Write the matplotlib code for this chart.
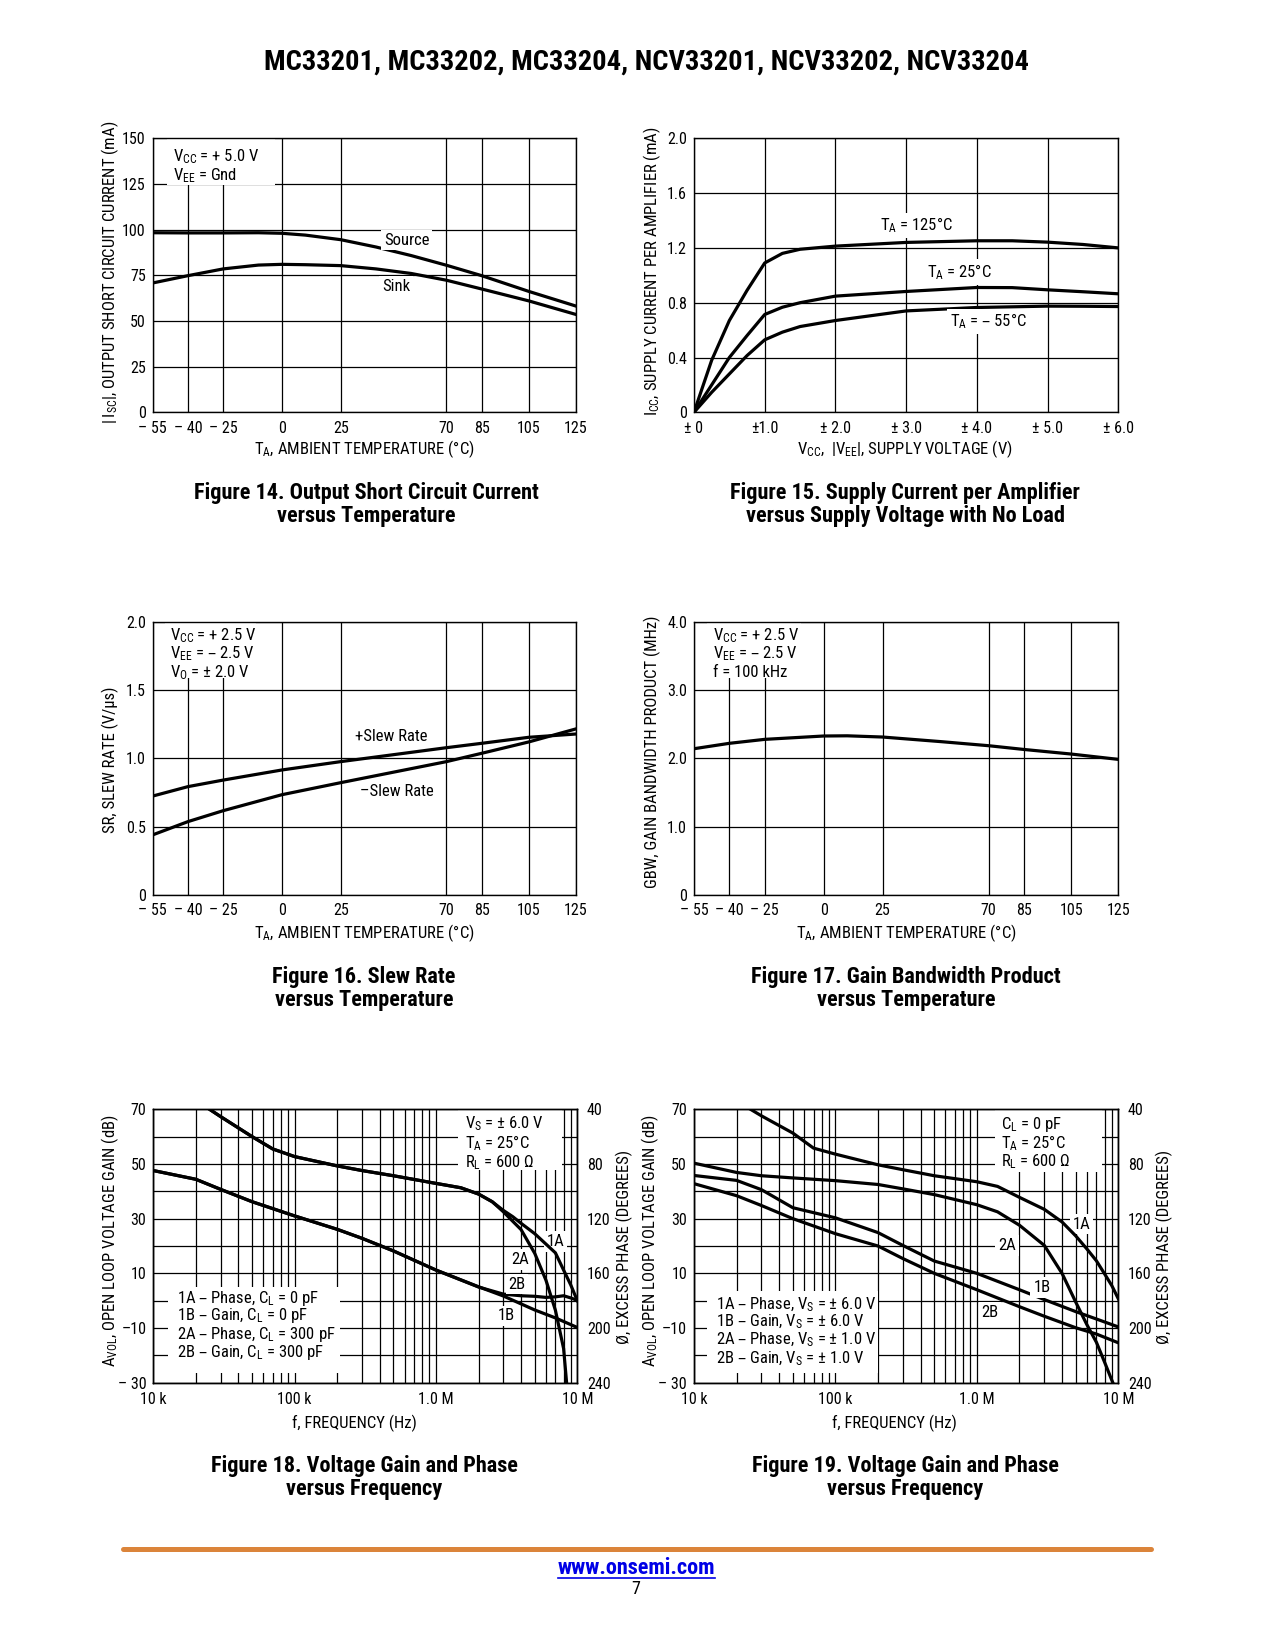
"""Pagina 7 de la hoja de datos MC33201: seis graficas de curvas tipicas."""

import matplotlib
matplotlib.use('Agg')
import matplotlib.pyplot as plt
from matplotlib.lines import Line2D
from matplotlib.patches import Rectangle
from matplotlib.ticker import FixedLocator, LogLocator, NullFormatter

plt.rcParams['font.family'] = ['Roboto Condensed', 'Liberation Sans', 'DejaVu Sans']
plt.rcParams['mathtext.default'] = 'regular'

# ---------------- datos ----------------
temp_ticks = [-55, -40, -25, 0, 25, 70, 85, 105, 125]
temp_labels = ['– 55', '– 40', '– 25', '0', '25', '70', '85', '105', '125']

# Figura 14: corriente de corto circuito (mA)
isc_temp = [-55, -40, -25, -10, 0, 10, 25, 40, 55, 70, 85, 105, 125]
isc_source = [98.3, 98.2, 98.2, 98.3, 98.0, 97.0, 94.5, 90.5, 85.8, 80.5, 74.8, 66.2, 58.2]
isc_sink = [70.8, 74.8, 78.5, 80.6, 81.0, 80.8, 80.3, 78.5, 76.0, 72.3, 67.5, 61.0, 53.6]

# Figura 15: corriente de alimentacion (mA) contra voltaje
vsup = [0, 0.25, 0.5, 0.75, 1.0, 1.25, 1.5, 2.0, 3.0, 4.0, 4.5, 5.0, 5.5, 6.0]
icc_125 = [0, 0.38, 0.67, 0.89, 1.09, 1.16, 1.19, 1.213, 1.24, 1.252, 1.252, 1.242, 1.225, 1.20]
icc_25 = [0, 0.20, 0.40, 0.56, 0.714, 0.767, 0.80, 0.848, 0.882, 0.911, 0.91, 0.894, 0.88, 0.865]
icc_m55 = [0, 0.146, 0.28, 0.414, 0.529, 0.585, 0.626, 0.67, 0.74, 0.765, 0.77, 0.775, 0.774, 0.772]
vsup_ticks = [0, 1, 2, 3, 4, 5, 6]
vsup_labels = ['± 0', '±1.0', '± 2.0', '± 3.0', '± 4.0', '± 5.0', '± 6.0']

# Figura 16: slew rate (V/us)
sr_temp = [-55, -40, -25, 0, 25, 70, 85, 105, 125]
sr_pos = [0.724, 0.793, 0.841, 0.915, 0.976, 1.078, 1.11, 1.154, 1.178]
sr_neg = [0.44, 0.537, 0.617, 0.734, 0.822, 0.976, 1.037, 1.12, 1.215]

# Figura 17: producto ganancia ancho de banda (MHz)
gbw_temp = [-55, -40, -25, 0, 10, 25, 50, 70, 85, 105, 125]
gbw = [2.141, 2.22, 2.278, 2.327, 2.33, 2.312, 2.244, 2.185, 2.13, 2.063, 1.985]

# Figura 18: ganancia (dB) y fase (grados) contra frecuencia
f18_1a = [25e3, 30e3, 50e3, 70e3, 100e3, 200e3, 300e3, 500e3, 1e6, 1.5e6, 2e6,
          2.5e6, 3e6, 3.5e6, 4e6, 5e6, 7e6, 8e6, 9e6, 10e6]
ph18_1a = [40, 45.4, 60, 69, 74.6, 81.4, 84.8, 88.6, 94.2, 97.4, 102,
           107.6, 114, 118.6, 123.4, 131, 145, 157.6, 168.6, 180]
f18_2a = [25e3, 30e3, 50e3, 70e3, 100e3, 200e3, 300e3, 500e3, 1e6, 1.5e6, 2e6,
          2.5e6, 3e6, 3.5e6, 4e6, 5e6, 6e6, 7e6, 8e6, 8.4e6]
ph18_2a = [40, 45.4, 60, 69, 74.6, 81.4, 84.8, 88.6, 94.2, 97.4, 102,
           107.6, 115, 122, 128, 145.4, 165, 187, 215, 240]
f18_1b = [10e3, 20e3, 30e3, 50e3, 100e3, 200e3, 300e3, 500e3, 1e6, 2e6, 3e6, 5e6, 7e6, 10e6]
g18_1b = [47.6, 44.4, 40.7, 36.2, 31.0, 26.1, 22.8, 18.2, 11.2, 5.1, 1.7, -3.4, -6.3, -9.8]
f18_2b = [10e3, 20e3, 30e3, 50e3, 100e3, 200e3, 300e3, 500e3, 1e6, 2e6, 3e6, 4e6,
          5e6, 6e6, 7e6, 8e6, 9e6, 10e6]
g18_2b = [47.6, 44.4, 40.7, 36.2, 31.0, 26.1, 22.8, 18.2, 11.2, 5.0, 2.4, 1.8,
          1.6, 1.2, 1.4, 1.8, 1.0, 0.1]

# Figura 19
f19_1a = [25.1e3, 30e3, 50e3, 70e3, 100e3, 200e3, 300e3, 500e3, 1e6, 1.4e6, 2e6,
          3e6, 4e6, 5e6, 6e6, 7e6, 8e6, 9e6, 10e6]
ph19_1a = [40, 44.8, 57.4, 68.4, 72.8, 80.6, 84.2, 88.6, 93, 96.4, 104.4,
           113.2, 122.4, 132.6, 142.2, 150.8, 160.4, 169, 178.6]
f19_2a = [10e3, 20e3, 30e3, 50e3, 100e3, 200e3, 300e3, 500e3, 1e6, 1.4e6, 2e6,
          3e6, 4e6, 5e6, 6e6, 7e6, 8e6, 9e6, 9.15e6]
ph19_2a = [79.4, 86.2, 88.6, 90.2, 92.2, 95, 98.2, 102.4, 109.8, 115, 124.8,
           139.6, 160, 181, 197.6, 210.4, 225, 238.2, 240]
f19_gain = [10e3, 20e3, 30e3, 50e3, 100e3, 200e3, 300e3, 500e3, 1e6, 2e6, 3e6, 5e6, 7e6, 10e6]
g19_1b = [45.8, 44.0, 40.6, 34.0, 30.3, 24.9, 20.2, 14.5, 10.0, 4.0, 0.4, -4.0, -6.7, -9.6]
g19_2b = [42.8, 38.4, 34.8, 30.0, 24.5, 20.0, 15.4, 10.0, 4.0, -2.2, -5.7, -9.9, -12.2, -15.4]

freq_ticks = [1e4, 1e5, 1e6, 1e7]
freq_labels = ['10 k', '100 k', '1.0 M', '10 M']
gain_ticks = [-30, -20, -10, 0, 10, 20, 30, 40, 50, 60, 70]
gain_labels = ['– 30', '', '–10', '', '10', '', '30', '', '50', '', '70']
phase_ticks = [40, 80, 120, 160, 200, 240]

# ---------------- figura ----------------
W, H = 1275, 1650
fig = plt.figure(figsize=(W / 100, H / 100), dpi=100)
FS = 12
TFS = 11.5
LW = 2.3
WHITE = dict(facecolor='white', edgecolor='none', pad=2)


def px_axes(left, top, right, bottom):
    return fig.add_axes([left / W, 1 - bottom / H, (right - left) / W, (bottom - top) / H])


def estilo(ax):
    ax.set_axisbelow(True)
    ax.grid(True, which='both', color='black', linewidth=0.9)
    ax.tick_params(which='both', length=0, labelsize=TFS, pad=6)
    ax.tick_params(axis='y', pad=5)
    for s in ax.spines.values():
        s.set_linewidth(1.0)


def caja(ax, x0, y0, x1, y1):
    # recuadro blanco que tapa la reticula detras de los textos
    ax.add_patch(Rectangle((x0, y0), x1 - x0, y1 - y0, transform=ax.transAxes,
                           facecolor='white', edgecolor='none', zorder=1))


def lineas(ax, x, ys, textos):
    for y, t in zip(ys, textos):
        ax.text(x, y, t, va='center', fontsize=FS, zorder=3)


def ftext(x, y, s, **kw):
    fig.text(x / W, 1 - y / H, s, ha='center', va='center', fontsize=FS, **kw)


def ylab(x, y, s):
    ftext(x, y, s, rotation=90)


def caption(x, y, l1, l2):
    for yy, s in [(y, l1), (y + 23, l2)]:
        fig.text(x / W, 1 - yy / H, s, ha='center', va='baseline', fontsize=16, weight='bold')


def temp_axis(ax):
    ax.set_xlim(-55, 125)
    ax.set_xticks(temp_ticks)
    ax.set_xticklabels(temp_labels)


def freq_axis(ax):
    ax.set_xscale('log')
    ax.set_xlim(1e4, 1e7)
    ax.xaxis.set_major_locator(FixedLocator(freq_ticks))
    ax.set_xticklabels(freq_labels)
    ax.xaxis.set_minor_locator(LogLocator(base=10, subs=range(2, 10), numticks=20))
    ax.xaxis.set_minor_formatter(NullFormatter())
    ax.tick_params(axis='x', pad=7)
    ax.set_ylim(-30, 70)
    ax.set_yticks(gain_ticks)
    ax.set_yticklabels(gain_labels)
    ax2 = ax.twinx()
    ax2.set_ylim(240, 40)
    ax2.set_yticks(phase_ticks)
    ax2.tick_params(length=0, labelsize=TFS, pad=7)
    for s in ax2.spines.values():
        s.set_linewidth(1.0)
    return ax2


fig.text(646 / W, 1 - 70 / H, 'MC33201, MC33202, MC33204, NCV33201, NCV33202, NCV33204',
         ha='center', va='baseline', fontsize=20.5, weight='bold')

# Figura 14
ax = px_axes(152.7, 138.3, 575.7, 412.3)
estilo(ax)
temp_axis(ax)
ax.set_ylim(0, 150)
ax.set_yticks(range(0, 151, 25))
ax.plot(isc_temp, isc_source, 'k-', lw=LW)
ax.plot(isc_temp, isc_sink, 'k-', lw=LW)
caja(ax, 0.033, 0.83, 0.29, 1.0)
lineas(ax, -46.5, [140, 129.5], ['V$_{CC}$ = + 5.0 V', 'V$_{EE}$ = Gnd'])
ax.text(53, 94.3, 'Source', ha='center', va='center', fontsize=FS, bbox=WHITE)
ax.text(48.5, 69, 'Sink', ha='center', va='center', fontsize=FS, bbox=WHITE)
ylab(110, 272, '$|\\,$I$_{SC}|$, OUTPUT SHORT CIRCUIT CURRENT (mA)')
ftext(364, 449, 'T$_A$, AMBIENT TEMPERATURE (°C)')
caption(366, 499, 'Figure 14. Output Short Circuit Current', 'versus Temperature')

# Figura 15
ax = px_axes(694, 138.3, 1118.3, 412.3)
estilo(ax)
ax.set_xlim(0, 6)
ax.set_xticks(vsup_ticks)
ax.set_xticklabels(vsup_labels)
ax.set_ylim(0, 2.0)
ax.set_yticks([0, 0.4, 0.8, 1.2, 1.6, 2.0])
ax.set_yticklabels(['0', '0.4', '0.8', '1.2', '1.6', '2.0'])
ax.plot(vsup, icc_125, 'k-', lw=LW)
ax.plot(vsup, icc_25, 'k-', lw=LW)
ax.plot(vsup, icc_m55, 'k-', lw=LW)
ax.text(2.63, 1.364, 'T$_A$ = 125°C', va='center', fontsize=FS, bbox=WHITE)
ax.text(3.29, 1.023, 'T$_A$ = 25°C', va='center', fontsize=FS, bbox=WHITE)
ax.text(3.62, 0.665, 'T$_A$ = – 55°C', va='center', fontsize=FS, bbox=WHITE)
ylab(652, 271, 'I$_{CC}$, SUPPLY CURRENT PER AMPLIFIER (mA)')
ftext(905, 449, 'V$_{CC}$,  $|$V$_{EE}|$, SUPPLY VOLTAGE (V)')
caption(905, 499, 'Figure 15. Supply Current per Amplifier', 'versus Supply Voltage with No Load')

# Figura 16
ax = px_axes(152.7, 621.7, 575.7, 895)
estilo(ax)
temp_axis(ax)
ax.set_ylim(0, 2.0)
ax.set_yticks([0, 0.5, 1.0, 1.5, 2.0])
ax.set_yticklabels(['0', '0.5', '1.0', '1.5', '2.0'])
ax.plot(sr_temp, sr_pos, 'k-', lw=LW)
ax.plot(sr_temp, sr_neg, 'k-', lw=LW)
caja(ax, 0.030, 0.793, 0.245, 1.0)
lineas(ax, -47.6, [1.9, 1.765, 1.63],
       ['V$_{CC}$ = + 2.5 V', 'V$_{EE}$ = – 2.5 V', 'V$_O$ = ± 2.0 V'])
ax.text(31.2, 1.159, '+Slew Rate', va='center', fontsize=FS, bbox=WHITE)
ax.text(33, 0.761, '–Slew Rate', va='center', fontsize=FS, bbox=WHITE)
ylab(110, 760, 'SR, SLEW RATE (V/µs)')
ftext(364, 933, 'T$_A$, AMBIENT TEMPERATURE (°C)')
caption(364, 983, 'Figure 16. Slew Rate', 'versus Temperature')

# Figura 17
ax = px_axes(694, 621.7, 1118.3, 895)
estilo(ax)
temp_axis(ax)
ax.set_ylim(0, 4.0)
ax.set_yticks([0, 1, 2, 3, 4])
ax.set_yticklabels(['0', '1.0', '2.0', '3.0', '4.0'])
ax.plot(gbw_temp, gbw, 'k-', lw=LW)
caja(ax, 0.030, 0.793, 0.253, 1.0)
lineas(ax, -47.1, [3.8, 3.53, 3.26],
       ['V$_{CC}$ = + 2.5 V', 'V$_{EE}$ = – 2.5 V', 'f = 100 kHz'])
ylab(652, 752, 'GBW, GAIN BANDWIDTH PRODUCT (MHz)')
ftext(906, 933, 'T$_A$, AMBIENT TEMPERATURE (°C)')
caption(906, 983, 'Figure 17. Gain Bandwidth Product', 'versus Temperature')

# Figura 18
ax = px_axes(153.3, 1109.3, 577.3, 1382.7)
estilo(ax)
ax2 = freq_axis(ax)
ax.plot(f18_1b, g18_1b, 'k-', lw=LW)
ax.plot(f18_2b, g18_2b, 'k-', lw=LW)
ax2.plot(f18_1a, ph18_1a, 'k-', lw=LW)
ax2.plot(f18_2a, ph18_2a, 'k-', lw=LW)
caja(ax, 0.719, 0.778, 0.963, 1.0)
lineas(ax, 1.6e6, [64.6, 57.6, 50.6], ['V$_S$ = ± 6.0 V', 'T$_A$ = 25°C', 'R$_L$ = 600 Ω'])
caja(ax, 0.035, 0.034, 0.441, 0.351)
lineas(ax, 14.8e3, [0.9, -5.6, -12.2, -19.1],
       ['1A – Phase, C$_L$ = 0 pF', '1B – Gain, C$_L$ = 0 pF',
        '2A – Phase, C$_L$ = 300 pF', '2B – Gain, C$_L$ = 300 pF'])
for s, fx, gy in [('1A', 7.03e6, 21.6), ('2A', 3.93e6, 15.1), ('2B', 3.75e6, 6.1), ('1B', 3.16e6, -5.6)]:
    ax.text(fx, gy, s, ha='center', va='center', fontsize=FS, bbox=WHITE)
ylab(110, 1241, 'A$_{VOL}$, OPEN LOOP VOLTAGE GAIN (dB)')
ylab(624, 1247, 'Ø, EXCESS PHASE (DEGREES)')
ftext(354, 1423, 'f, FREQUENCY (Hz)')
caption(364, 1472, 'Figure 18. Voltage Gain and Phase', 'versus Frequency')

# Figura 19
ax = px_axes(694, 1109.3, 1118.3, 1382.7)
estilo(ax)
ax2 = freq_axis(ax)
ax.plot(f19_gain, g19_1b, 'k-', lw=LW)
ax.plot(f19_gain, g19_2b, 'k-', lw=LW)
ax2.plot(f19_1a, ph19_1a, 'k-', lw=LW)
ax2.plot(f19_2a, ph19_2a, 'k-', lw=LW)
caja(ax, 0.709, 0.772, 0.961, 1.0)
lineas(ax, 1.48e6, [64.6, 57.7, 50.9], ['C$_L$ = 0 pF', 'T$_A$ = 25°C', 'R$_L$ = 600 Ω'])
caja(ax, 0.031, 0.036, 0.434, 0.334)
lineas(ax, 14.3e3, [-1.4, -7.9, -14.4, -21.4],
       ['1A – Phase, V$_S$ = ± 6.0 V', '1B – Gain, V$_S$ = ± 6.0 V',
        '2A – Phase, V$_S$ = ± 1.0 V', '2B – Gain, V$_S$ = ± 1.0 V'])
for s, fx, gy in [('1A', 5.51e6, 28), ('2A', 1.63e6, 20.1), ('1B', 2.88e6, 4.9), ('2B', 1.24e6, -4.2)]:
    ax.text(fx, gy, s, ha='center', va='center', fontsize=FS, bbox=WHITE)
ylab(650, 1241, 'A$_{VOL}$, OPEN LOOP VOLTAGE GAIN (dB)')
ylab(1164, 1247, 'Ø, EXCESS PHASE (DEGREES)')
ftext(894, 1423, 'f, FREQUENCY (Hz)')
caption(905, 1472, 'Figure 19. Voltage Gain and Phase', 'versus Frequency')

# pie de pagina
fig.add_artist(Line2D([123 / W, 1151 / W], [1 - 1549 / H] * 2, color='#DB843A', lw=3.6,
                      solid_capstyle='round'))
fig.text(636 / W, 1 - 1574 / H, 'www.onsemi.com', ha='center', va='baseline', fontsize=16,
         weight='bold', color='#0000E6')
fig.add_artist(Line2D([558 / W, 715 / W], [1 - 1578 / H] * 2, color='#0000E6', lw=1.2))
fig.text(636 / W, 1 - 1594 / H, '7', ha='center', va='baseline', fontsize=13)

fig.savefig('out.png', dpi=100, facecolor='white')
